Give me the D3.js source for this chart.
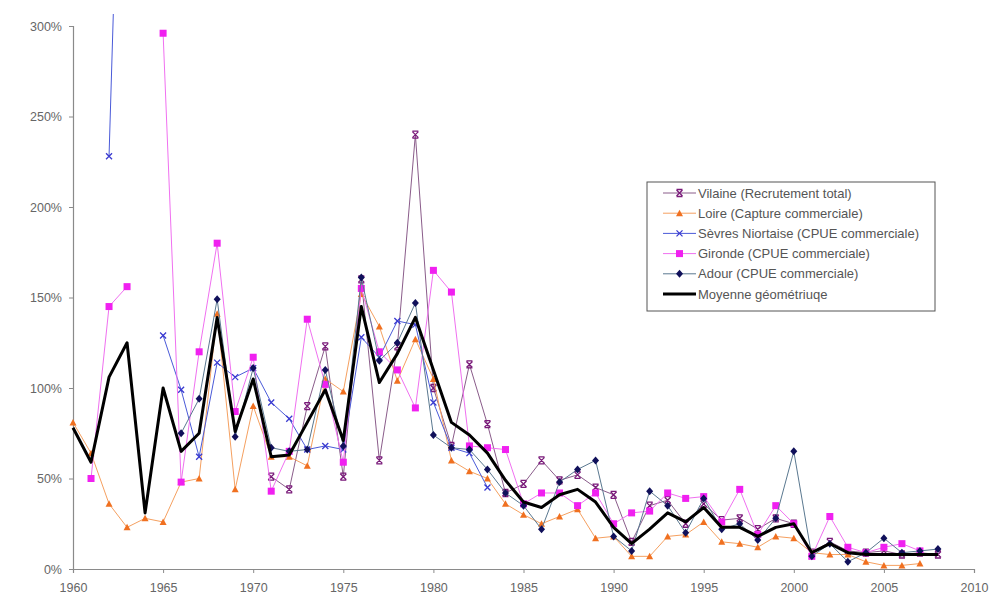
<!DOCTYPE html>
<html>
<head>
<meta charset="utf-8">
<script src="https://cdn.jsdelivr.net/npm/d3@7"></script>
<style>
body{margin:0;background:#fff;}
svg{display:block;font-family:"Liberation Sans",Arial,sans-serif;}
</style>
</head>
<body>
<svg id="c" width="999" height="615"></svg>
<script>
const years = d3.range(1960, 2009);
const xTicks = [1960,1965,1970,1975,1980,1985,1990,1995,2000,2005,2010];
const yTicks = [0,50,100,150,200,250,300];

const vilaine = [null,null,null,null,null,null,null,null,null,null,null,
 51,44,90,123,51,160,60,123,240,100,68,113,80,42,47,60,49,52,45,41,15,35,38,25,36,27,28,22,28,25,9,15,10,9,10,8,9,8];
const loire = [81,64,36,23,28,26,48,50,141,44,90,62,62,57,105,98,152,134,104,127,105,60,54,50,36,30,25,29,33,17,18,7,7,18,19,26,15,14,12,18,17,9,8,8,4,2,2,3,null];
const sevres = [null,null,228,560,null,129,99,62,114,106,111,92,83,66,68,66,128,117,137,135,92,67,64,45,null,
 null,null,null,null,null,null,null,null,null,null,null,null,null,null,null,null,null,null,null,null,null,null,null,null];
const gironde = [null,50,145,156,null,296,48,120,180,87,117,43,65,138,102,59,155,120,110,89,165,153,68,67,66,36,42,42,35,42,25,31,32,42,39,40,26,44,19,35,25,7,29,12,9,12,14,10,null];
const adour = [null,null,null,null,null,null,75,94,149,73,111,67,65,66,110,68,161,115,125,147,74,67,66,55,42,35,22,48,55,60,18,10,43,35,20,39,22,25,16,28,65,7,14,4,9,17,9,10,11];
const moyenne = [78,59,106,125,31,100,65,75,139,76,105,62,63,81,99,71,145,103,119,139,110,81,74,64,49,37,34,41,44,37,23,14,22,31,26,34,23,23,18,23,25,9,14,9,8,8,8,8,8];

const series = [
  {name:"Vilaine (Recrutement total)", values:vilaine, line:"#8a5c8a", mark:"#7a1a7a", shape:"star", w:1},
  {name:"Loire (Capture commerciale)", values:loire, line:"#f5a060", mark:"#f07020", shape:"tri", w:1},
  {name:"Sèvres Niortaise (CPUE commerciale)", values:sevres, line:"#4a5ad8", mark:"#3a3ad0", shape:"x", w:1},
  {name:"Gironde (CPUE commerciale)", values:gironde, line:"#f070f0", mark:"#f020f0", shape:"sq", w:1},
  {name:"Adour (CPUE commerciale)", values:adour, line:"#5a7890", mark:"#10105a", shape:"dia", w:1},
  {name:"Moyenne géométriuqe", values:moyenne, line:"#000000", mark:null, shape:null, w:3}
];

const svg = d3.select("#c");
const x = d3.scaleLinear().domain([1960,2010]).range([73,974]);
const y = d3.scaleLinear().domain([0,300]).range([569,26]);

svg.append("defs").append("clipPath").attr("id","clip")
  .append("rect").attr("x",60).attr("y",14).attr("width",930).attr("height",570);

// axes
const yAxis = d3.axisLeft(y).tickValues(yTicks).tickSize(4).tickFormat(d=>d+"%");
const gy = svg.append("g").attr("transform","translate(73,0)").call(yAxis);
const xAxis = d3.axisBottom(x).tickValues(xTicks).tickSize(4).tickFormat(d3.format("d"));
const gx = svg.append("g").attr("transform","translate(0,569)").call(xAxis);
[gx,gy].forEach(g=>{
  g.select(".domain").attr("stroke","#8a8a8a").attr("stroke-width",1.2);
  g.selectAll(".tick line").attr("stroke","#8a8a8a");
  g.selectAll("text").attr("fill","#666").attr("font-size",12.5);
});
gy.selectAll("text").attr("x",-11);
gx.selectAll("text").attr("y",14);

const plot = svg.append("g").attr("clip-path","url(#clip)");
const line = d3.line().defined(d=>d[1]!==null).x(d=>x(d[0])).y(d=>y(d[1]));

function marker(g, shape, color, cx, cy){
  if(shape==="sq"){
    g.append("rect").attr("x",cx-3.5).attr("y",cy-3.5).attr("width",7).attr("height",7).attr("fill",color);
  } else if(shape==="tri"){
    g.append("path").attr("d",`M${cx},${cy-3.5}L${cx+3.5},${cy+3}L${cx-3.5},${cy+3}Z`).attr("fill",color);
  } else if(shape==="dia"){
    g.append("path").attr("d",`M${cx},${cy-4}L${cx+3.5},${cy}L${cx},${cy+4}L${cx-3.5},${cy}Z`).attr("fill",color);
  } else if(shape==="x"){
    g.append("path").attr("d",`M${cx-3},${cy-3}L${cx+3},${cy+3}M${cx-3},${cy+3}L${cx+3},${cy-3}`).attr("stroke",color).attr("stroke-width",1.3);
  } else if(shape==="star"){
    g.append("path").attr("d",`M${cx-3},${cy-3}L${cx+3},${cy+3}M${cx-3},${cy+3}L${cx+3},${cy-3}M${cx-3},${cy-3.5}L${cx+3},${cy-3.5}M${cx-3},${cy+3.5}L${cx+3},${cy+3.5}`).attr("stroke",color).attr("stroke-width",1.3);
  }
}

series.forEach(s=>{
  const pts = years.map((yr,i)=>[yr, s.values[i]===undefined?null:s.values[i]]);
  plot.append("path").datum(pts).attr("d",line).attr("fill","none")
    .attr("stroke",s.line).attr("stroke-width",s.w).attr("stroke-linejoin","round");
  if(s.shape){
    const g = plot.append("g");
    pts.filter(d=>d[1]!==null).forEach(d=>marker(g,s.shape,s.mark,x(d[0]),y(d[1])));
  }
});

// legend
const lg = svg.append("g");
lg.append("rect").attr("x",647).attr("y",182).attr("width",288).attr("height",129)
  .attr("fill","#fff").attr("stroke","#555").attr("stroke-width",1);
series.forEach((s,i)=>{
  const ly = 193 + i*20.2;
  lg.append("line").attr("x1",663).attr("x2",696).attr("y1",ly).attr("y2",ly)
    .attr("stroke",s.line).attr("stroke-width",s.w);
  if(s.shape) marker(lg,s.shape,s.mark,679.5,ly);
  lg.append("text").attr("x",698).attr("y",ly+4.5).attr("font-size",13).attr("fill","#555").text(s.name);
});
</script>
</body>
</html>
